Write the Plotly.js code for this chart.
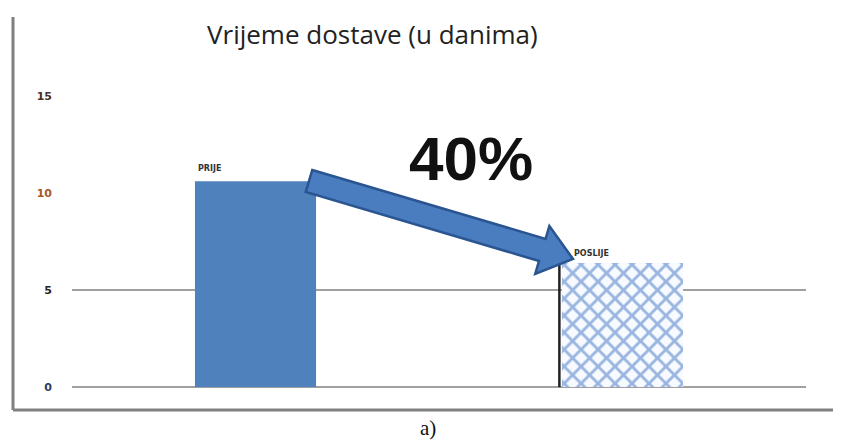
<!DOCTYPE html>
<html><head><meta charset="utf-8">
<script src="https://cdn.plot.ly/plotly-3.0.1.min.js"></script>
<style>html,body{margin:0;padding:0;background:#fff}#c{width:848px;height:443px}</style>
</head><body><div id="c"></div>
<script>
const categories = ["PRIJE", "POSLIJE"];
const values = [10.6, 6.4];
const tickVals = [0, 5, 10, 15];
const tickLabels = ["0", "5", "10", "15"];
const tickColors = ["#2b3d63", "#222222", "#a8582a", "#4a3025"];
const gridVals = [0, 5];
const titleText = "Vrijeme dostave (u danima)";
const changeText = "40%";
const captionText = "a)";

const W = 848, H = 443, L = 72, R = 806, T = 61, B = 391;
const px = x => (x - L) / (R - L);
const py = y => (B - y) / (B - T);

// arrow geometry (pixels)
const tail = [309, 181], tip = [573, 259];
const dx = tip[0] - tail[0], dy = tip[1] - tail[1], len = Math.hypot(dx, dy);
const d = [dx / len, dy / len], n = [-d[1], d[0]];
const hw = 11.5, hh = 25, hl = 32;
const base = [tip[0] - hl * d[0], tip[1] - hl * d[1]];
const pts = [
  [tail[0] - hw * n[0], tail[1] - hw * n[1]],
  [base[0] - hw * n[0], base[1] - hw * n[1]],
  [base[0] - hh * n[0], base[1] - hh * n[1]],
  tip,
  [base[0] + hh * n[0], base[1] + hh * n[1]],
  [base[0] + hw * n[0], base[1] + hw * n[1]],
  [tail[0] + hw * n[0], tail[1] + hw * n[1]]
];
const arrowPath = "M" + pts.map(p => px(p[0]).toFixed(5) + "," + py(p[1]).toFixed(5)).join(" L") + " Z";

const traces = [{
  type: "bar",
  x: categories,
  y: values,
  width: 0.33,
  marker: {color: ["#4f81bd", "#f7faff"], line: {width: 0}},
  hoverinfo: "skip"
}, {
  type: "bar",
  x: [categories[1]],
  y: [values[1]],
  width: 0.33,
  marker: {
    color: "rgba(0,0,0,0)",
    line: {width: 0},
    pattern: {shape: "x", fillmode: "overlay", fgcolor: "#9ab6e0", fgopacity: 1, size: 12, solidity: 0.42}
  },
  hoverinfo: "skip"
}];

const shapes = gridVals.map(v => ({
  type: "line", layer: "below", xref: "paper", yref: "y", x0: 0, x1: 1, y0: v, y1: v,
  line: {color: "#a0a0a0", width: 2}
}));
shapes.push(
  {type: "line", xref: "paper", yref: "paper", x0: px(13), x1: px(13), y0: py(17), y1: py(410), line: {color: "#808080", width: 3}},
  {type: "line", xref: "paper", yref: "paper", x0: px(13), x1: px(833), y0: py(410), y1: py(410), line: {color: "#808080", width: 3}},
  {type: "line", xref: "x", yref: "y", x0: 1 - 0.172, x1: 1 - 0.172, y0: 0, y1: values[1], line: {color: "#222", width: 2.5}},
  {type: "path", xref: "paper", yref: "paper", path: arrowPath, fillcolor: "#4a7dc0", line: {color: "#2a5590", width: 2.5}}
);

const layout = {
  width: W, height: H,
  margin: {l: L, r: W - R, t: T, b: H - B, pad: 0},
  paper_bgcolor: "#fff", plot_bgcolor: "rgba(0,0,0,0)",
  showlegend: false, barmode: "overlay",
  xaxis: {type: "category", range: [-0.5, 1.5], showticklabels: false, showgrid: false, zeroline: false, showline: false, ticks: ""},
  yaxis: {
    range: [-0.2, 16.8], tickvals: tickVals,
    ticktext: tickLabels.map((t, i) => '<b><span style="color:' + tickColors[i] + '">' + t + '</span></b>'),
    tickfont: {family: "DejaVu Sans", size: 11, color: "#333"},
    showgrid: false, zeroline: false, showline: false, ticks: "", ticklabelstandoff: 19
  },
  shapes: shapes,
  annotations: [
    {xref: "paper", yref: "paper", x: px(372), y: py(34), text: titleText, showarrow: false,
     font: {family: "Open Sans", size: 26, color: "#222"}, xanchor: "center", yanchor: "middle"},
    {xref: "paper", yref: "paper", x: px(471), y: py(158), text: "<b>" + changeText + "</b>", showarrow: false,
     font: {family: "Liberation Sans", size: 62, color: "#111"}, xanchor: "center", yanchor: "middle"},
    {xref: "paper", yref: "paper", x: px(428), y: py(428), text: captionText, showarrow: false,
     font: {family: "Liberation Serif", size: 21, color: "#111"}, xanchor: "center", yanchor: "middle"},
    {xref: "x", yref: "y", x: 0 - 0.165, y: values[0], text: "<b>" + categories[0] + "</b>", showarrow: false,
     font: {family: "DejaVu Sans", size: 8, color: "#333"}, xanchor: "left", yanchor: "bottom", xshift: 1, yshift: 6},
    {xref: "x", yref: "y", x: 1 - 0.165, y: values[1], text: "<b>" + categories[1] + "</b>", showarrow: false,
     font: {family: "DejaVu Sans", size: 8, color: "#333"}, xanchor: "left", yanchor: "bottom", xshift: 10, yshift: 3}
  ]
};
Plotly.newPlot("c", traces, layout, {staticPlot: true, displayModeBar: false});
</script></body></html>
